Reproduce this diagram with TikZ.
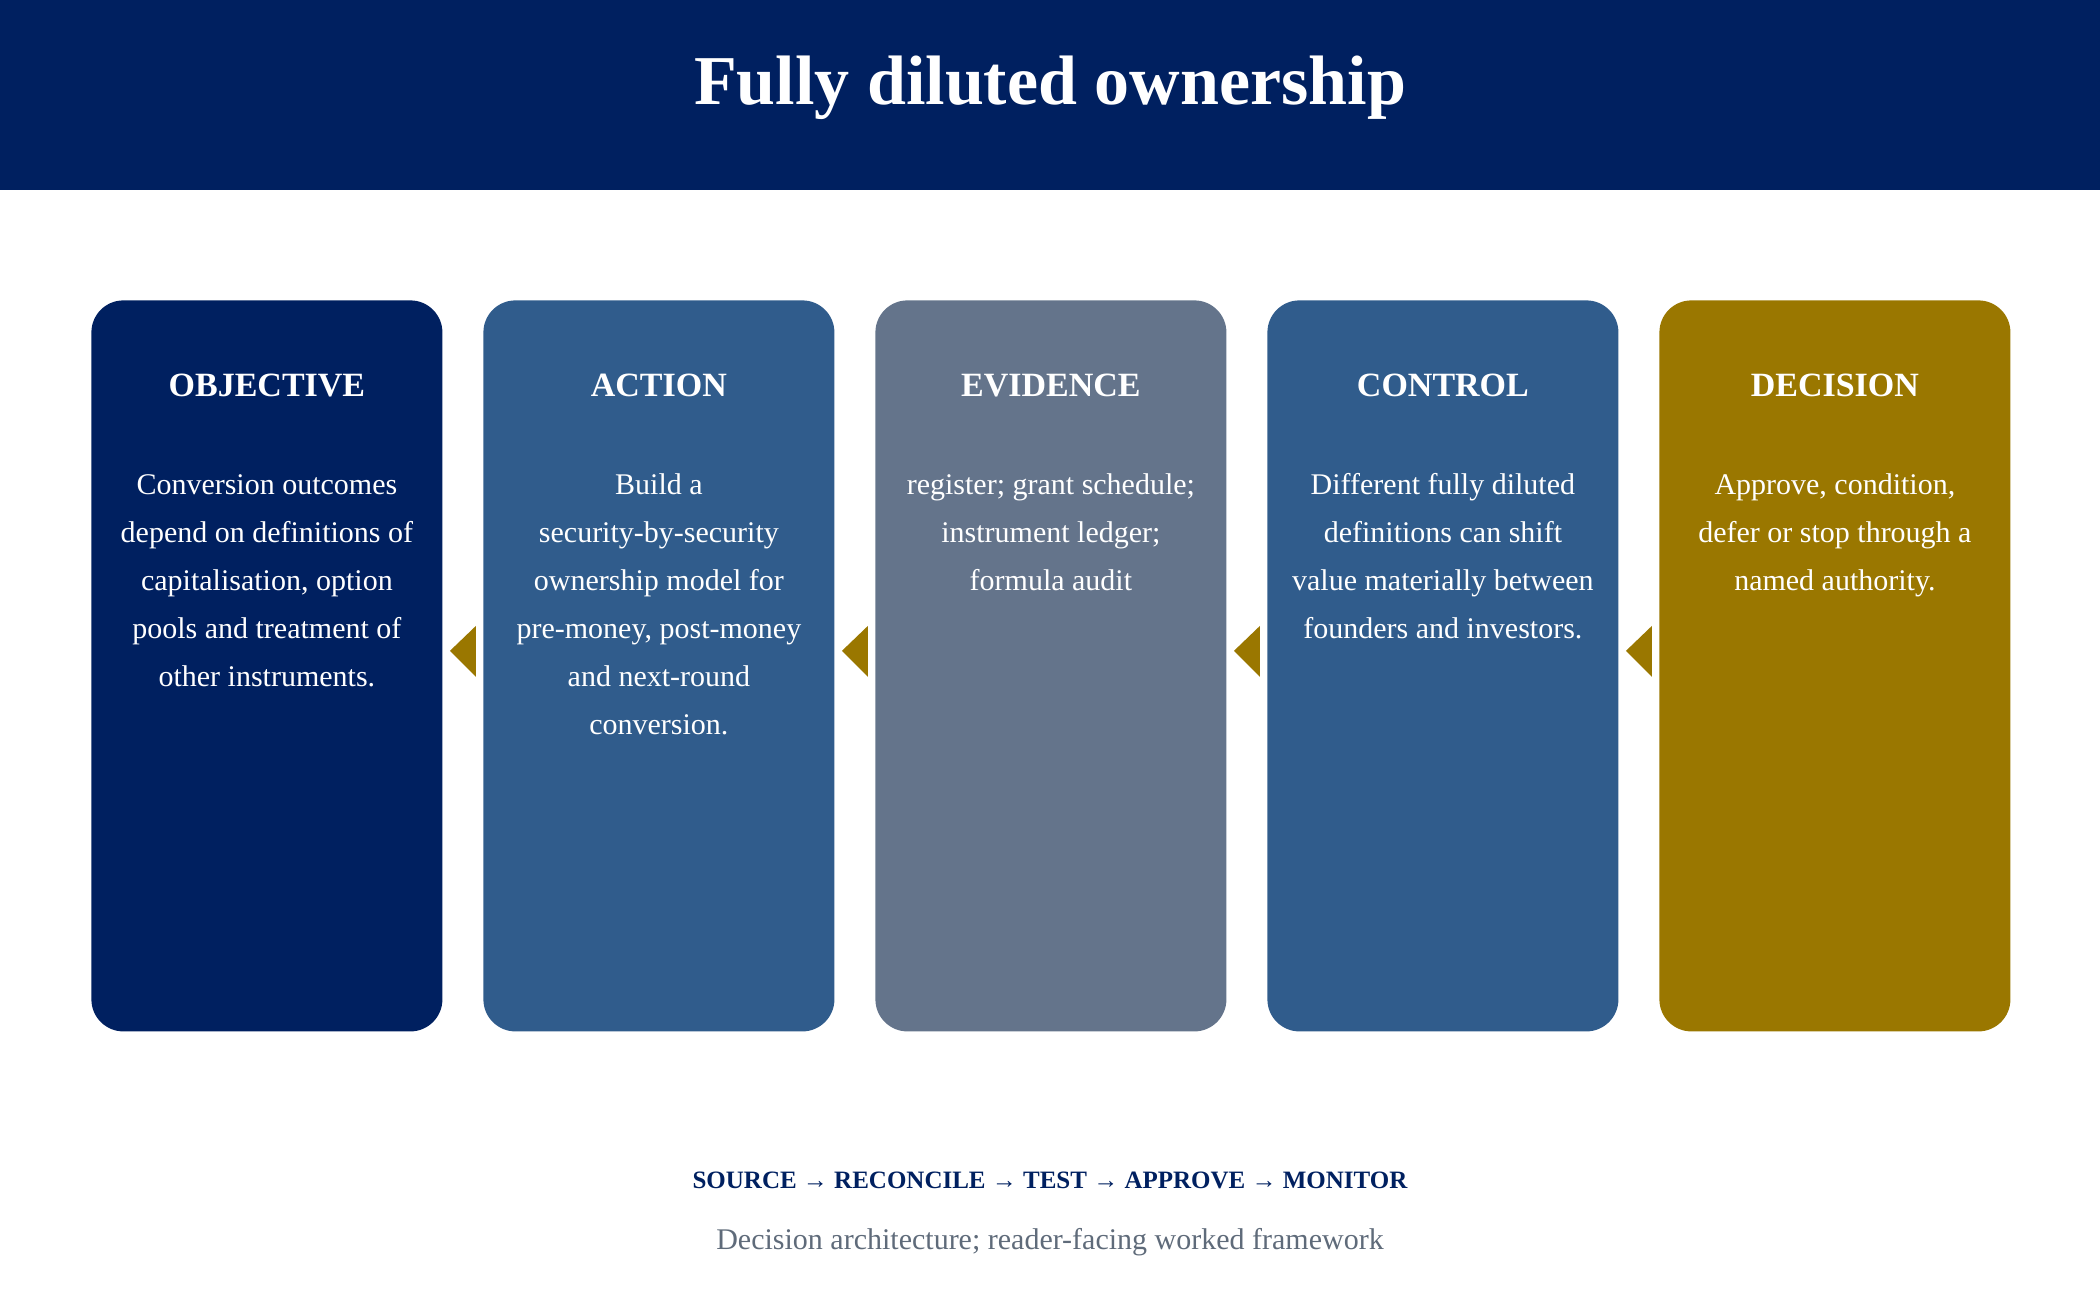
\documentclass[tikz,border=0pt]{standalone}
\usepackage{fontspec}
\setmainfont{Liberation Serif}
\usetikzlibrary{calc,positioning}
\definecolor{navy}{HTML}{002060}
\definecolor{steel}{HTML}{305C8C}
\definecolor{slate}{HTML}{64748B}
\definecolor{gold}{HTML}{9A7700}
\definecolor{capgrey}{HTML}{5F6B7A}
\tikzset{
	card/.style={rounded corners=16pt,minimum width=175.5pt,minimum height=365.5pt,inner sep=0pt,anchor=north west},
	cardhead/.style={text=white,font=\fontsize{17}{20}\selectfont\bfseries,anchor=base,inner sep=0pt},
	cardbody/.style={text=white,font=\fontsize{15}{24}\selectfont,align=center,anchor=north,inner sep=0pt},
	pointer/.style={fill=gold}
}

\begin{document}
\begin{tikzpicture}[x=0.5pt,y=-0.5pt]
	\useasboundingbox (0,0) rectangle (2100,1300);
	% header band
	\fill[navy] (0,0) rectangle (2100,190);
	\node[text=white,font=\fontsize{35}{40}\selectfont\bfseries,anchor=base] (title) at (1050,105) {Fully diluted ownership};
	% cards
	\node[card,fill=navy] (obj) at (91,300) {};
	\node[card,fill=steel] (act) at (483,300) {};
	\node[card,fill=slate] (evi) at (875,300) {};
	\node[card,fill=steel] (ctl) at (1267,300) {};
	\node[card,fill=gold] (dec) at (1659,300) {};
	% headings and texts
	\foreach \c/\h in {obj/OBJECTIVE,act/ACTION,evi/EVIDENCE,ctl/CONTROL,dec/DECISION}
		\node[cardhead] (\c-head) at ($(\c.north)+(0,96)$) {\h};
	\node[cardbody] (obj-text) at ($(obj.north)+(0,160)$) {\strut Conversion outcomes\\depend on definitions of\\capitalisation, option\\pools and treatment of\\other instruments.};
	\node[cardbody] (act-text) at ($(act.north)+(0,160)$) {\strut Build a\\security-by-security\\ownership model for\\pre-money, post-money\\and next-round\\conversion.};
	\node[cardbody] (evi-text) at ($(evi.north)+(0,160)$) {\strut register; grant schedule;\\instrument ledger;\\formula audit};
	\node[cardbody] (ctl-text) at ($(ctl.north)+(0,160)$) {\strut Different fully diluted\\definitions can shift\\value materially between\\founders and investors.};
	\node[cardbody] (dec-text) at ($(dec.north)+(0,160)$) {\strut Approve, condition,\\defer or stop through a\\named authority.};
	% pointers between cards
	\foreach \a/\b in {obj/act,act/evi,evi/ctl,ctl/dec}{
		\coordinate (\a-\b) at ($(\a.east)!0.5!(\b.west)+(0,-15)$);
		\fill[pointer] ($(\a-\b)+(-13,0)$) -- ++(26,-25) -- ++(0,51) -- cycle;
	}
	% footer
	\node[text=navy,font=\fontsize{12.5}{14}\selectfont\bfseries,anchor=base] (flow) at (1050,1188) {SOURCE → RECONCILE → TEST → APPROVE → MONITOR};
	\node[text=capgrey,font=\fontsize{15}{18}\selectfont,anchor=base] (caption) at (1050,1249) {Decision architecture; reader-facing worked framework};
\end{tikzpicture}
\end{document}
